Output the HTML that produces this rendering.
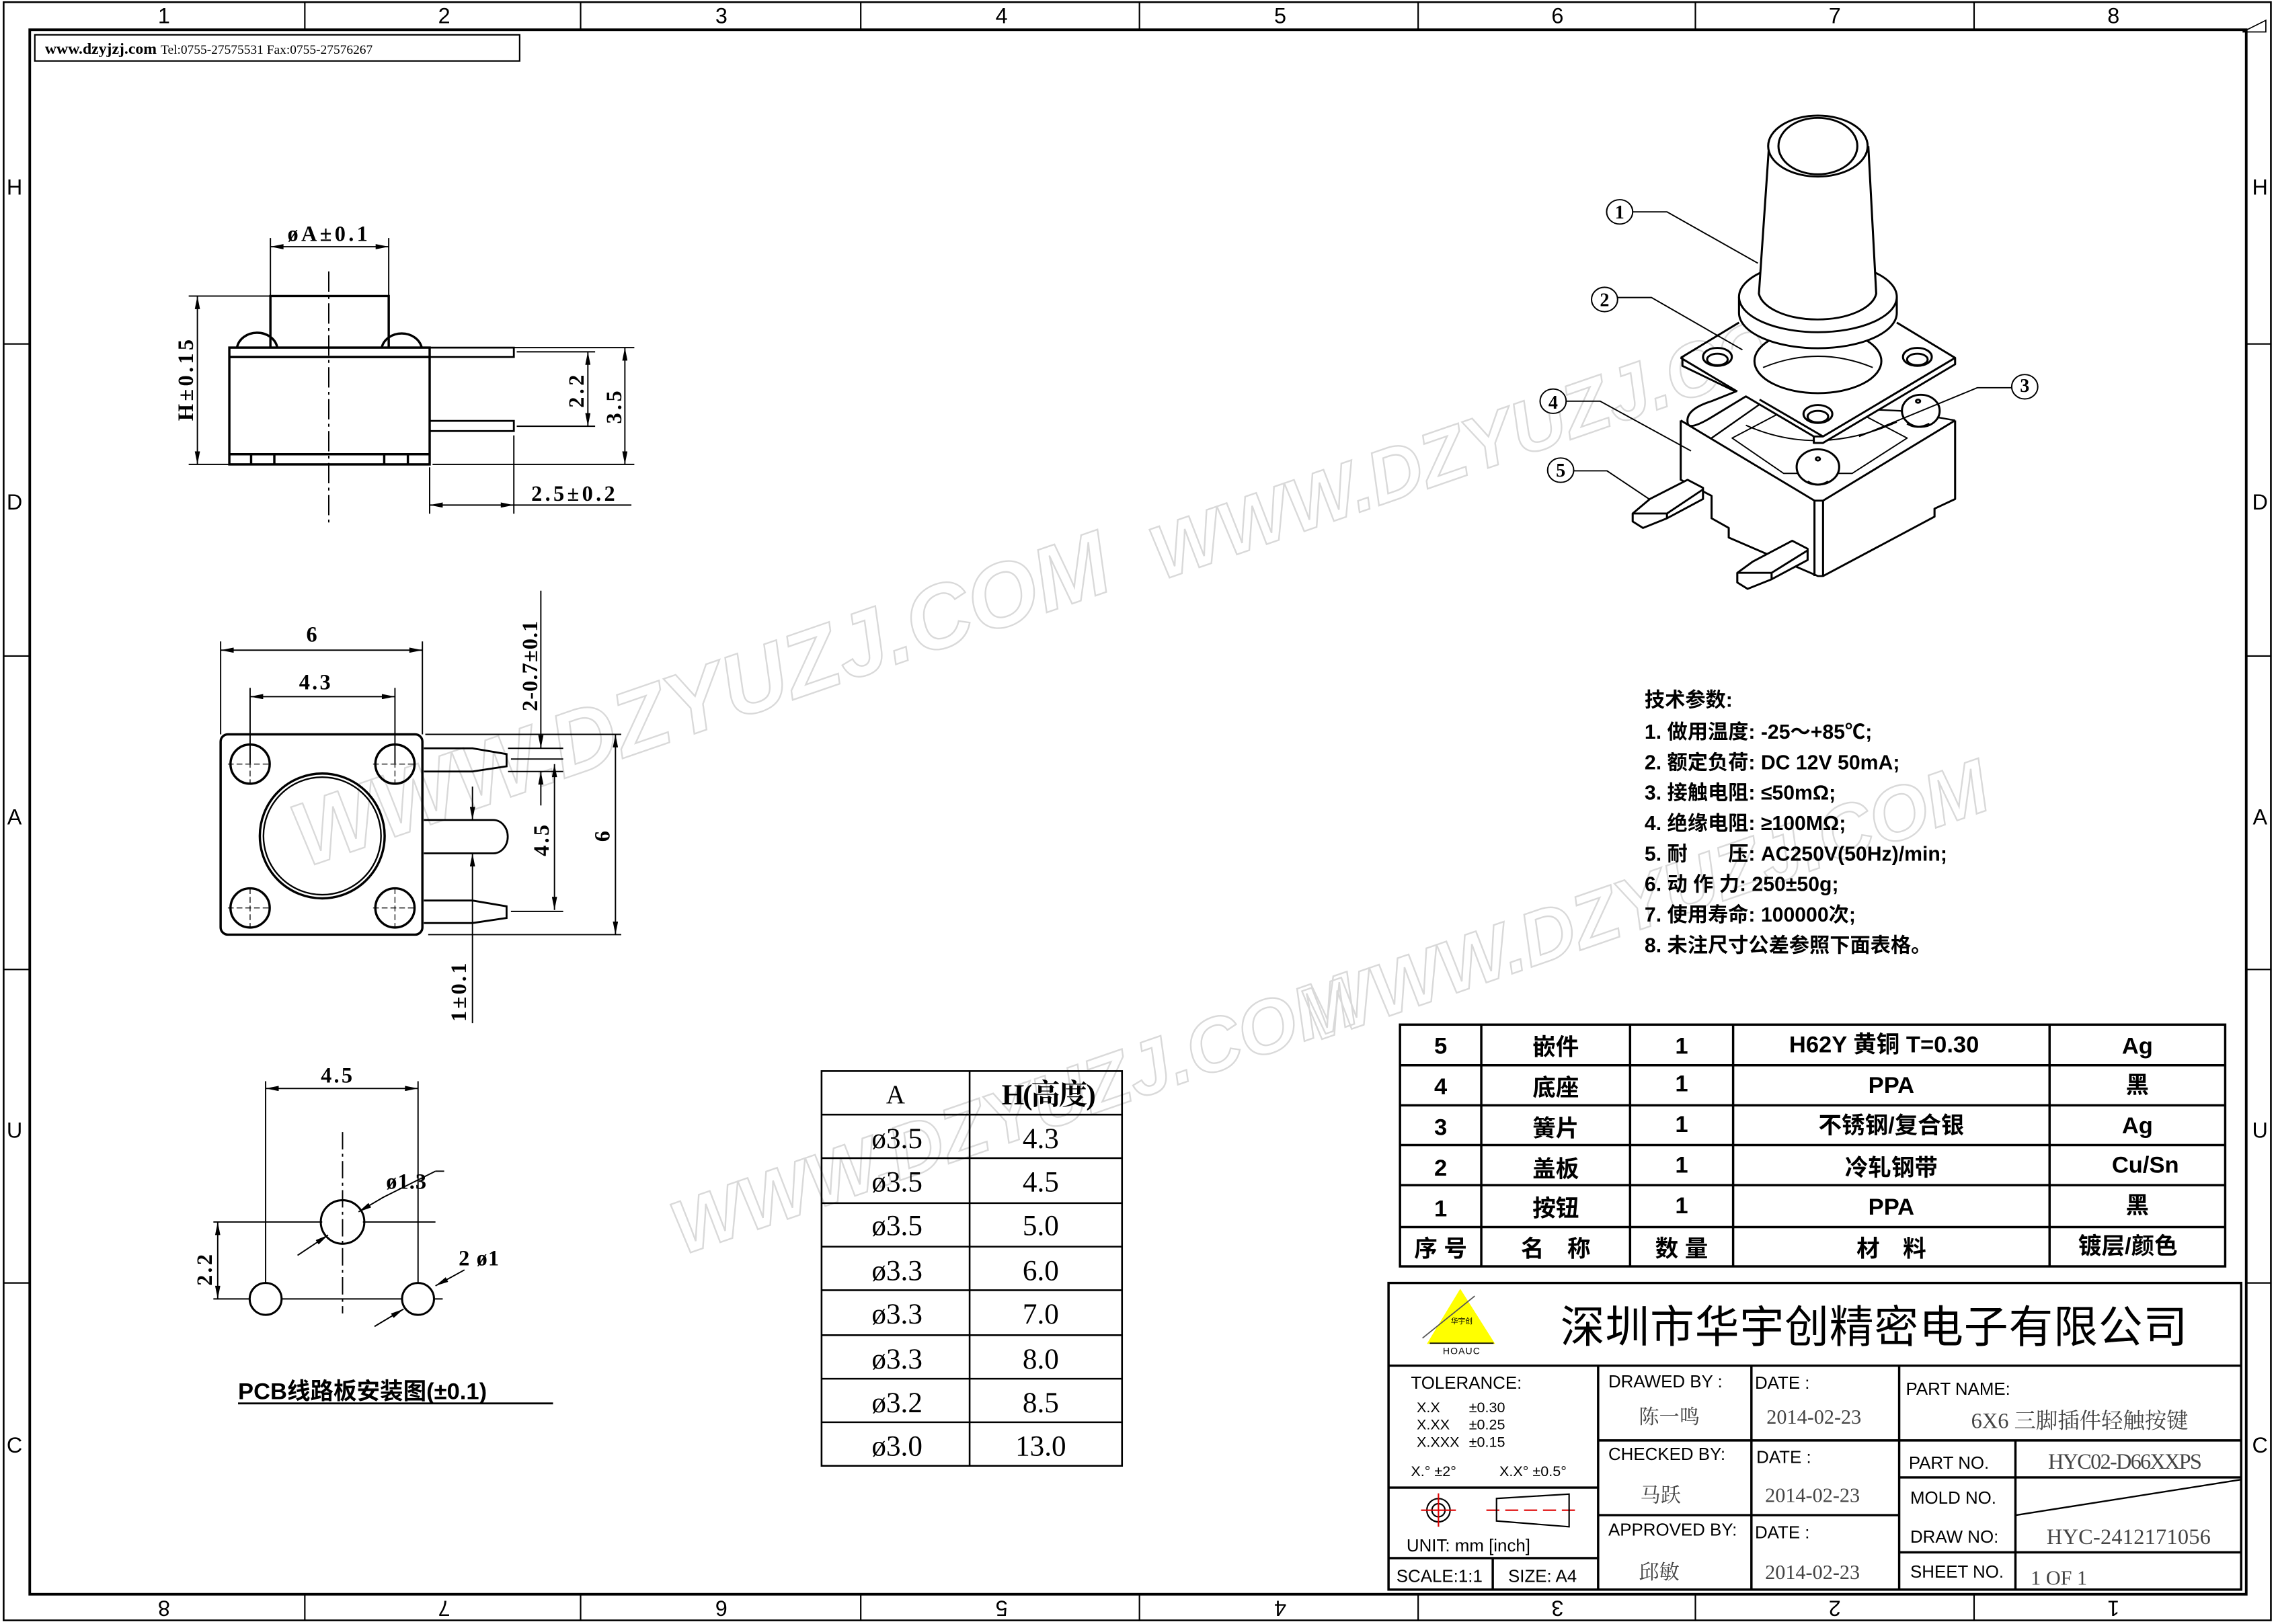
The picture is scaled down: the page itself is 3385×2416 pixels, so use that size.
<!DOCTYPE html>
<html><head><meta charset="utf-8"><style>
html,body{margin:0;padding:0;background:#fff;}
svg{display:block;}
.t{font-family:"Liberation Serif","Noto Serif CJK SC",serif;font-weight:bold;fill:#000;}
.s{font-family:"Liberation Sans","Noto Sans CJK SC",sans-serif;fill:#000;}
.c{font-family:"Liberation Sans","Noto Sans CJK SC",sans-serif;font-weight:bold;fill:#000;}
.g{font-family:"Liberation Serif","Noto Serif CJK SC",serif;fill:#444;}
</style></head><body>
<svg width="3385" height="2416" viewBox="0 0 1568 1119" preserveAspectRatio="none" xmlns="http://www.w3.org/2000/svg">
<defs>
<marker id="a" viewBox="0 0 10 4" refX="10" refY="2" markerWidth="11" markerHeight="3.6" orient="auto-start-reverse" markerUnits="userSpaceOnUse"><path d="M0,0L10,2L0,4z" fill="#000"/></marker>
</defs>
<rect width="1568" height="1119" fill="#fff"/>
<!-- watermarks -->
<g font-family="Liberation Sans,sans-serif" font-weight="bold" font-size="62" fill="none" stroke="#d9d9d9" stroke-width="1.1" font-style="italic">
<text transform="translate(210,598) rotate(-19)">WWW.DZYUZJ.COM</text>
<text transform="translate(800,400) rotate(-19)" font-size="52">WWW.DZYUZJ.COM</text>
<text transform="translate(470,865) rotate(-19)" font-size="52">WWW.DZYUZJ.COM</text>
<text transform="translate(905,718) rotate(-19)" font-size="52">WWW.DZYUZJ.COM</text>
</g>
<!-- frame -->
<g fill="none" stroke="#000">
<rect x="2.5" y="1.5" width="1562" height="1115" stroke-width="1.2"/>
<rect x="20.5" y="20.5" width="1527" height="1078" stroke-width="1.8"/>
<path d="M210,1.5V20.5M400,1.5V20.5M593,1.5V20.5M785,1.5V20.5M977,1.5V20.5M1168,1.5V20.5M1360,1.5V20.5M210,1098V1117M400,1098V1117M593,1098V1117M785,1098V1117M977,1098V1117M1168,1098V1117M1360,1098V1117M2.5,237H20.5M2.5,452H20.5M2.5,668H20.5M2.5,884H20.5M1547,237H1565M1547,452H1565M1547,668H1565M1547,884H1565" stroke-width="1"/>
<rect x="24" y="24" width="334" height="18" stroke-width="1"/>
</g>
<g class="s" font-size="15" text-anchor="middle">
<text x="113" y="16">1</text><text x="306" y="16">2</text><text x="497" y="16">3</text><text x="690" y="16">4</text><text x="882" y="16">5</text><text x="1073" y="16">6</text><text x="1264" y="16">7</text><text x="1456" y="16">8</text>
<text x="10" y="134">H</text><text x="10" y="351">D</text><text x="10" y="568">A</text><text x="10" y="784">U</text><text x="10" y="1001">C</text>
<text x="1557" y="134">H</text><text x="1557" y="351">D</text><text x="1557" y="568">A</text><text x="1557" y="784">U</text><text x="1557" y="1001">C</text>
<g transform="rotate(180 0 0)">
<text x="-113" y="-1103">8</text><text x="-306" y="-1103">7</text><text x="-497" y="-1103">6</text><text x="-690" y="-1103">5</text><text x="-882" y="-1103">4</text><text x="-1073" y="-1103">3</text><text x="-1264" y="-1103">2</text><text x="-1456" y="-1103">1</text>
</g>
</g>
<text class="t" x="31" y="37" font-size="11">www.dzyjzj.com <tspan font-size="9" font-weight="normal">Tel:0755-27575531  Fax:0755-27576267</tspan></text>

<!-- SIDE VIEW -->
<g fill="none" stroke="#000" stroke-width="1.6">
<rect x="158" y="239.5" width="138" height="80.5"/>
<path d="M158,246H296M158,313H296M173,313V320M189,313V320M264.7,313V320M281,313V320"/>
<path d="M186.3,239.5V204H267.8V239.5"/>
<path d="M163.3,239.5A14,12 0 0 1 191,239.5M263,239.5A14,12 0 0 1 290.5,239.5"/>
<path d="M296,239.5H354V246H296M296,290H354V297H296" stroke-width="1.3"/>
</g>
<g fill="none" stroke="#000" stroke-width="0.9">
<path d="M226.5,187V360" stroke-dasharray="14,3,2,3"/>
<path d="M186.3,164V204M267.8,164V204M130,204H186M130,320H158M356,242.4H410M356,293.7H410M298,239.5H437M298,320H437M296,322V354M354,300V354"/>
<path d="M186.3,170H267.8" marker-start="url(#a)" marker-end="url(#a)"/>
<path d="M136,204V320" marker-start="url(#a)" marker-end="url(#a)"/>
<path d="M405,242.4V293.7" marker-start="url(#a)" marker-end="url(#a)"/>
<path d="M430.5,239.5V320" marker-start="url(#a)" marker-end="url(#a)"/>
<path d="M296,348H354" marker-start="url(#a)" marker-end="url(#a)"/>
<path d="M354,348H435"/>
</g>
<g class="t" font-size="15" letter-spacing="2">
<text x="198" y="166">øA±0.1</text>
<text x="366" y="345">2.5±0.2</text>
<text transform="translate(133,290) rotate(-90)">H±0.15</text>
<text transform="translate(402,281) rotate(-90)">2.2</text>
<text transform="translate(428,292) rotate(-90)">3.5</text>
</g>

<!-- FRONT VIEW -->
<g fill="none" stroke="#000" stroke-width="1.6">
<rect x="152" y="506" width="139" height="138" rx="5"/>
<circle cx="172.3" cy="526.5" r="13.5"/><circle cx="272.1" cy="526.5" r="13.5"/>
<circle cx="172.3" cy="625.6" r="13.5"/><circle cx="272.1" cy="625.6" r="13.5"/>
<circle cx="222" cy="576" r="43"/><circle cx="222" cy="576" r="40.5" stroke-width="1.1"/>
<path d="M292,515.6H325.5L349,519.6V528L325.5,531.6H292" stroke-width="1.3"/>
<path d="M292,620.5H325.5L349,624.5V632.5L325.5,636H292" stroke-width="1.3"/>
<path d="M292,565H339.8A10,11.5 0 0 1 339.8,588H292" stroke-width="1.3"/>
</g>
<g fill="none" stroke="#000" stroke-width="0.6" stroke-dasharray="4,2">
<path d="M157,526.5H187M257,526.5H287M157,625.6H187M257,625.6H287M172.3,513V540M272.1,513V540M172.3,612V639M272.1,612V639"/>
</g>
<g fill="none" stroke="#000" stroke-width="0.9">
<path d="M152,442V506M291,442V506M172.3,474V526M272.1,474V526"/>
<path d="M152,448H291" marker-start="url(#a)" marker-end="url(#a)"/>
<path d="M172.3,480H272.1" marker-start="url(#a)" marker-end="url(#a)"/>
<path d="M293,506H428M295,644H428M350,515.6H388M350,531.6H388M352,523H388M352,628H388"/>
<path d="M372.6,407V515.6" marker-end="url(#a)"/>
<path d="M372.6,555V531.6" marker-end="url(#a)"/>
<path d="M382,526.5V627" marker-start="url(#a)" marker-end="url(#a)"/>
<path d="M424,506V644" marker-start="url(#a)" marker-end="url(#a)"/>
<path d="M325.5,542V565" marker-end="url(#a)"/>
<path d="M325.5,705V588" marker-end="url(#a)"/>
</g>
<g class="t" font-size="15" letter-spacing="1.5">
<text x="211" y="442">6</text>
<text x="206" y="475">4.3</text>
<text transform="translate(370,490) rotate(-90)" letter-spacing="0.5">2-0.7±0.1</text>
<text transform="translate(378,590) rotate(-90)">4.5</text>
<text transform="translate(420,580) rotate(-90)">6</text>
<text transform="translate(321,704) rotate(-90)">1±0.1</text>
</g>

<!-- PCB LAYOUT -->
<g fill="none" stroke="#000" stroke-width="1.4">
<circle cx="236" cy="842" r="15"/>
<circle cx="183" cy="895" r="11"/><circle cx="288" cy="895" r="11"/>
</g>
<g fill="none" stroke="#000" stroke-width="0.9">
<path d="M183,745V884M288,745V884M147,842H222M250,842H300M147,895H172M194,895H277M299,895H305"/>
<path d="M236,780V905" stroke-dasharray="12,3,2,3"/>
<path d="M183,750H288" marker-start="url(#a)" marker-end="url(#a)"/>
<path d="M150,842V895" marker-start="url(#a)" marker-end="url(#a)"/>
<path d="M205,865L226,851" marker-end="url(#a)"/>
<path d="M300,807L264,825L247,835" marker-end="url(#a)"/>
<path d="M300,807H306"/>
<path d="M258,914L278,902" marker-end="url(#a)"/>
<path d="M320,875L300,886" marker-end="url(#a)"/>
<path d="M164,967H381" stroke-width="1.3"/>
</g>
<g class="t" font-size="15" letter-spacing="1.5">
<text x="221" y="746">4.5</text>
<text x="266" y="819" letter-spacing="0.5">ø1.3</text>
<text x="316" y="872" letter-spacing="0.5">2 ø1</text>
<text transform="translate(146,886) rotate(-90)">2.2</text>
</g>
<text class="c" x="164" y="964" font-size="16">PCB线路板安装图(±0.1)</text>

<!-- H TABLE -->
<g fill="none" stroke="#000" stroke-width="1.2">
<rect x="566" y="738" width="207" height="272"/>
<path d="M668,738V1010M566,768H773M566,798H773M566,829H773M566,859H773M566,889H773M566,920H773M566,950H773M566,980H773"/>
</g>
<g font-family="Liberation Serif,Noto Serif CJK SC,serif" font-size="20" text-anchor="middle" fill="#000">
<text x="617" y="760" font-size="18">A</text>
<text x="722" y="761" font-weight="bold" font-size="20" letter-spacing="-1">H(高度)</text>
<text x="618" y="791">ø3.5</text><text x="717" y="791">4.3</text>
<text x="618" y="821">ø3.5</text><text x="717" y="821">4.5</text>
<text x="618" y="851">ø3.5</text><text x="717" y="851">5.0</text>
<text x="618" y="882">ø3.3</text><text x="717" y="882">6.0</text>
<text x="618" y="912">ø3.3</text><text x="717" y="912">7.0</text>
<text x="618" y="943">ø3.3</text><text x="717" y="943">8.0</text>
<text x="618" y="973">ø3.2</text><text x="717" y="973">8.5</text>
<text x="618" y="1003">ø3.0</text><text x="717" y="1003">13.0</text>
</g>

<!-- TECH PARAMS -->
<g class="c" font-size="14">
<text x="1133" y="487">技术参数:</text>
<text x="1133" y="509">1. 做用温度: -25～+85℃;</text>
<text x="1133" y="530">2. 额定负荷: DC 12V 50mA;</text>
<text x="1133" y="551">3. 接触电阻: ≤50mΩ;</text>
<text x="1133" y="572">4. 绝缘电阻: ≥100MΩ;</text>
<text x="1133" y="593">5. 耐　　压: AC250V(50Hz)/min;</text>
<text x="1133" y="614">6. 动 作 力: 250±50g;</text>
<text x="1133" y="635">7. 使用寿命: 100000次;</text>
<text x="1133" y="656">8. 未注尺寸公差参照下面表格。</text>
</g>

<!-- BOM -->
<g fill="none" stroke="#000" stroke-width="1.6">
<rect x="964.5" y="706" width="568.5" height="166.6"/>
<path d="M964.5,734H1533M964.5,761.6H1533M964.5,789H1533M964.5,816.6H1533M964.5,845.5H1533M1020.5,706V872.6M1123,706V872.6M1194,706V872.6M1412,706V872.6"/>
</g>
<g class="c" font-size="16" text-anchor="middle">
<text x="992.5" y="726">5</text><text x="1071.8" y="727">嵌件</text><text x="1158.5" y="726">1</text><text x="1298" y="725">H62Y 黄铜 T=0.30</text><text x="1472.5" y="726">Ag</text>
<text x="992.5" y="754">4</text><text x="1071.8" y="755">底座</text><text x="1158.5" y="752">1</text><text x="1303" y="753">PPA</text><text x="1472.5" y="753">黑</text>
<text x="992.5" y="782">3</text><text x="1071.8" y="783">簧片</text><text x="1158.5" y="780">1</text><text x="1303" y="781">不锈钢/复合银</text><text x="1472.5" y="781">Ag</text>
<text x="992.5" y="810">2</text><text x="1071.8" y="811">盖板</text><text x="1158.5" y="808">1</text><text x="1303" y="810">冷轧钢带</text><text x="1478" y="808">Cu/Sn</text>
<text x="992.5" y="838">1</text><text x="1071.8" y="838">按钮</text><text x="1158.5" y="836">1</text><text x="1303" y="837">PPA</text><text x="1472.5" y="836">黑</text>
<text x="992.5" y="866">序 号</text><text x="1071.8" y="866">名　称</text><text x="1158.5" y="866">数 量</text><text x="1303" y="866">材　料</text><text x="1466" y="864">镀层/颜色</text>
</g>

<!-- TITLE BLOCK -->
<g fill="none" stroke="#000" stroke-width="1.6">
<rect x="956.6" y="884" width="587.4" height="211.3"/>
<path d="M956.6,941H1544M1101,941V1095.3M1206.6,941V1095.3M1308.4,941V1095.3M1101,992.5H1544M1101,1044H1308.4M1308.4,1018H1544M1308.4,1069.6H1544M1388.5,992.5V1095.3M956.6,1025H1101M956.6,1073.6H1101M1028.4,1073.6V1095.3"/>
<path d="M1389,1044L1544,1019.5" stroke-width="1.1"/>
</g>
<polygon points="1006,888 983,926 1030,926" fill="#ffff00"/>
<path d="M980,922L1016,893" stroke="#555" stroke-width="0.8" fill="none"/>
<path d="M985,925.5H1029" stroke="#000" stroke-width="0.8"/>
<text class="s" x="1007" y="912" font-size="5" text-anchor="middle">华宇创</text>
<text class="s" x="1007" y="933" font-size="6.5" text-anchor="middle" letter-spacing="0.5">HOAUC</text>
<text font-family="Liberation Sans,Noto Sans CJK SC,sans-serif" x="1075" y="925" font-size="30.5" textLength="432" fill="#000">深圳市华宇创精密电子有限公司</text>
<g class="s" font-size="12">
<text x="972" y="957">TOLERANCE:</text>
<text x="976" y="973" font-size="10">X.X</text><text x="1012" y="973" font-size="10">±0.30</text>
<text x="976" y="985" font-size="10">X.XX</text><text x="1012" y="985" font-size="10">±0.25</text>
<text x="976" y="997" font-size="10">X.XXX</text><text x="1012" y="997" font-size="10">±0.15</text>
<text x="972" y="1017" font-size="10">X.° ±2°</text><text x="1033" y="1017" font-size="10">X.X° ±0.5°</text>
<text x="969" y="1069">UNIT:  mm  [inch]</text>
<text x="962" y="1090">SCALE:1:1</text><text x="1039" y="1090">SIZE:  A4</text>
<text x="1108" y="956">DRAWED  BY  :</text>
<text x="1209" y="957">DATE  :</text>
<text x="1108" y="1006">CHECKED  BY:</text>
<text x="1210" y="1008">DATE  :</text>
<text x="1108" y="1058">APPROVED  BY:</text>
<text x="1209" y="1060">DATE  :</text>
<text x="1313" y="961">PART  NAME:</text>
<text x="1315" y="1012">PART  NO.</text>
<text x="1316" y="1036">MOLD  NO.</text>
<text x="1316" y="1063">DRAW  NO:</text>
<text x="1316" y="1087">SHEET  NO.</text>
</g>
<g fill="none" stroke="#d00" stroke-width="1">
<circle cx="991" cy="1040.6" r="8" stroke="#000"/><circle cx="991" cy="1040.6" r="4.5" stroke="#000"/>
<path d="M979,1040.6H1003M991,1029V1052"/>
<path d="M1024,1040.6H1085" stroke-dasharray="9,4"/>
</g>
<path d="M1031,1032.5L1081,1029.5V1052L1031,1048Z" fill="none" stroke="#000" stroke-width="1"/>
<g class="g" font-size="14">
<text x="1129" y="981">陈一鸣</text>
<text x="1217" y="981">2014-02-23</text>
<text x="1130" y="1035">马跃</text>
<text x="1216" y="1035">2014-02-23</text>
<text x="1129" y="1088">邱敏</text>
<text x="1216" y="1088">2014-02-23</text>
<text x="1358" y="984" font-size="15">6X6  三脚插件轻触按键</text>
<text x="1411" y="1012" font-size="15" textLength="106">HYC02-D66XXPS</text>
<text x="1410" y="1064" font-size="15" textLength="113">HYC-2412171056</text>
<text x="1399" y="1092">1  OF  1</text>
</g>
<path d="M1545,22L1561,14V22Z" fill="none" stroke="#000" stroke-width="0.8"/>

<!-- 3D VIEW -->
<g transform="translate(1042.1,69.7) scale(0.2363,0.2211)" fill="none" stroke="#000" stroke-width="6" stroke-linejoin="round">
<path d="M490,995V1180L580,1230V1300L630,1330V1360L890,1480L905,1480L1230,1295V1270L1290,1240V995"/>
<path d="M880,1245V1480M905,1245V1480M490,995L880,1245H905L1290,995"/>
<path d="M580,1050L720,945L1130,965L1290,995" stroke-width="5"/>
<path d="M640,1050L790,1160L990,1160L1150,1050L990,960L800,960Z" stroke-width="4"/>
<path d="M680,1010Q890,1110 1120,1000" stroke-width="4"/>
<ellipse cx="890" cy="1140" rx="62" ry="55" fill="#fff"/>
<ellipse cx="890" cy="1115" rx="6" ry="5"/>
<path d="M860,1185Q890,1205 920,1185"/>
<ellipse cx="1190" cy="965" rx="55" ry="50" fill="#fff"/>
<ellipse cx="1182" cy="935" rx="6" ry="5"/>
<path d="M1150,1005Q1180,1025 1215,1005"/>
<path d="M490,800L660,690M1120,690L1290,800V820L905,1065H878V1045L680,920L580,985Q510,1030 510,1000Q505,960 580,935L650,905L495,825V800" fill="#fff"/>
<path d="M490,800L655,905M1290,800L905,1045L720,930" />
<path d="M878,1045H905"/>
<ellipse cx="597" cy="797" rx="42" ry="28" fill="#fff"/><ellipse cx="597" cy="805" rx="30" ry="18"/>
<ellipse cx="1180" cy="797" rx="42" ry="28" fill="#fff"/><ellipse cx="1180" cy="805" rx="30" ry="18"/>
<ellipse cx="890" cy="975" rx="42" ry="28" fill="#fff"/><ellipse cx="890" cy="983" rx="30" ry="18"/>
<ellipse cx="890" cy="810" rx="185" ry="100"/>
<path d="M730,830Q890,760 1050,830" stroke-width="4"/>
<path d="M660,610V660A230,110 0 0 0 1120,660V610" fill="#fff"/>
<ellipse cx="890" cy="610" rx="230" ry="110" fill="#fff"/>
<path d="M748,130L718,600A172,90 0 0 0 1060,600L1037,140" fill="#fff"/>
<ellipse cx="890" cy="140" rx="145" ry="95" fill="#fff"/>
<ellipse cx="890" cy="140" rx="115" ry="88"/>
<path d="M350,1285L400,1240L510,1180L555,1205V1240L450,1300L380,1330L350,1310Z" fill="#fff"/>
<path d="M350,1285H450L555,1210M450,1285V1300"/>
<path d="M655,1470L700,1435L815,1370L860,1395V1430L755,1490L685,1520L655,1500Z" fill="#fff"/>
<path d="M655,1470H755L860,1400M755,1470V1490"/>
<g stroke-width="4">
<circle cx="312" cy="345" r="38" fill="#fff"/>
<path d="M350,345H450L715,505" marker-end="url(#a)"/>
<circle cx="268" cy="618" r="38" fill="#fff"/>
<path d="M306,612H405L670,775" marker-end="url(#a)"/>
<circle cx="1493" cy="890" r="38" fill="#fff"/>
<path d="M1455,893H1355L1010,1045" marker-end="url(#a)"/>
<circle cx="118" cy="935" r="38" fill="#fff"/>
<path d="M156,935H255L520,1090" marker-end="url(#a)"/>
<circle cx="140" cy="1150" r="38" fill="#fff"/>
<path d="M178,1152H275L398,1240" marker-end="url(#a)"/>
</g>
</g>
<g class="t" font-size="13" text-anchor="middle">
<text x="1115.8" y="150.5">1</text>
<text x="1105.4" y="211">2</text>
<text x="1394.9" y="270">3</text>
<text x="1070" y="281.5">4</text>
<text x="1075.2" y="328.5">5</text>
</g>
</svg>
</body></html>
